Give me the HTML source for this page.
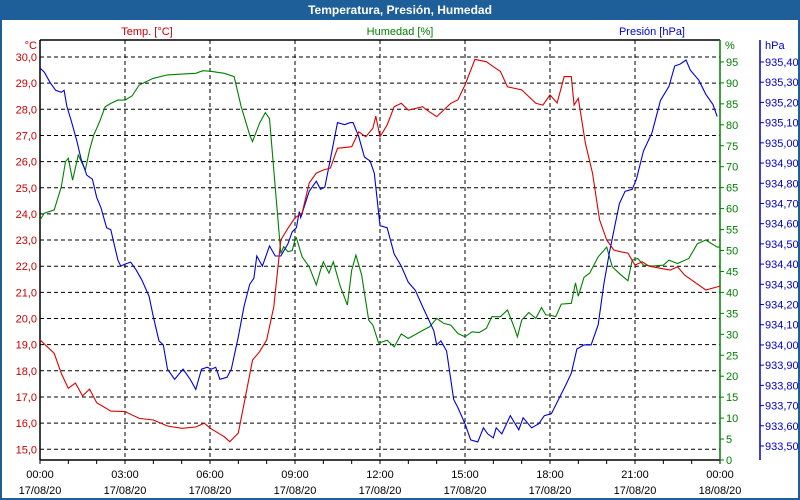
<!DOCTYPE html>
<html><head><meta charset="utf-8"><style>
html,body{margin:0;padding:0;background:#fff}
#wrap{position:relative;width:800px;height:500px;box-sizing:border-box;border:2px solid #1f5f99;border-top:none;overflow:hidden;font-family:"Liberation Sans","DejaVu Sans",sans-serif}
#title{position:absolute;left:-2px;top:0;width:800px;height:20px;background:#1f5f99;color:#fff;font-weight:bold;font-size:12px;text-align:center;line-height:20px}
svg{position:absolute;left:-2px;top:0}
</style></head><body>
<div id="wrap">
<div id="title">Temperatura, Presión, Humedad</div>
<svg id="chart" width="800" height="500"></svg>
</div>
<script>
const tempHours=[0,0.5,0.75,1,1.25,1.5,1.75,2,2.5,3,3.5,4,4.5,5,5.5,5.8,6,6.5,6.7,7,7.25,7.5,7.75,8,8.25,8.5,8.75,9,9.25,9.5,9.75,10,10.25,10.5,11,11.25,11.5,11.75,11.85,12,12.25,12.5,12.75,13,13.5,13.75,14,14.5,14.75,15,15.25,15.35,15.75,16,16.25,16.5,17,17.5,17.75,18,18.25,18.5,18.75,18.85,19,19.25,19.5,19.75,20,20.25,20.5,20.75,21,21.25,21.5,22,22.25,22.5,22.75,23,23.5,24];
const tempValues=[19.18,18.67,17.9,17.33,17.53,17.04,17.3,16.78,16.46,16.44,16.18,16.12,15.89,15.8,15.85,16.0,15.81,15.48,15.29,15.62,17.0,18.41,18.73,19.18,20.45,23.0,23.45,23.85,24.03,25.18,25.56,25.68,25.75,26.51,26.57,27.14,26.95,27.28,27.74,26.95,27.4,28.1,28.23,27.97,28.1,27.9,27.72,28.23,28.36,28.93,29.63,29.91,29.82,29.63,29.45,28.86,28.74,28.23,28.16,28.55,28.24,29.25,29.25,28.16,28.42,26.7,25.56,23.77,23.0,22.62,22.55,22.5,22.04,22.17,22.0,21.9,21.85,21.98,21.66,21.47,21.09,21.24];
const humHours=[0,0.15,0.5,0.75,0.9,1,1.15,1.35,1.6,1.75,1.9,2.1,2.3,2.5,2.75,3,3.25,3.5,4,4.5,5,5.5,5.75,6,6.5,6.85,7.1,7.4,7.5,7.75,7.95,8.1,8.3,8.5,8.6,8.75,8.9,9,9.05,9.25,9.5,9.75,9.9,10,10.2,10.35,10.6,10.85,11,11.15,11.35,11.6,11.75,11.95,12.25,12.5,12.75,13,13.5,13.75,14,14.25,14.5,14.75,15,15.25,15.5,15.75,15.95,16.25,16.5,16.75,16.85,17,17.25,17.5,17.7,17.85,18,18.2,18.4,18.75,18.9,19,19.2,19.4,19.7,20,20.2,20.5,20.75,20.9,21.1,21.3,21.6,22,22.2,22.5,22.9,23.2,23.5,23.9,24];
const humValues=[57.3,58.9,59.7,65.2,71.2,72,66.8,72.8,69.2,74,77.6,80.7,84.3,85.1,85.9,85.9,86.9,89.5,91.1,91.9,92.1,92.3,92.9,92.8,92.3,91.5,84.3,77.6,76,80.4,82.9,81.5,65.2,49.3,50.9,49.7,50,52.5,53,48.5,46.1,41.8,45.3,47.3,44.6,47.3,41.4,37,45.3,48.9,44.2,33.4,32.2,27.9,28.6,27,30.1,29,30.9,31.8,33.8,32.6,32.2,30.2,29.4,30.6,30.4,31.4,34.2,34.2,35.8,31.4,29.4,33.4,35.2,33.8,36.4,34.6,34.6,34.2,37.2,37.4,42.3,39.1,43.6,44.6,48.5,50.8,46.1,44.2,42.8,47.7,48.1,46.5,46.3,46.5,47.7,46.9,48.1,51.6,52.5,50.8,50.8];
const presHours=[0,0.15,0.35,0.55,0.75,0.85,0.95,1.1,1.3,1.45,1.65,1.85,2,2.15,2.35,2.5,2.75,2.85,3,3.2,3.4,3.6,3.85,4,4.2,4.35,4.5,4.75,5.05,5.3,5.5,5.7,5.9,6.05,6.2,6.35,6.6,6.75,7,7.2,7.4,7.55,7.65,7.85,8.1,8.3,8.5,8.75,8.9,9.05,9.15,9.2,9.5,9.75,9.9,10.05,10.25,10.5,10.75,10.95,11.05,11.25,11.45,11.65,11.8,12,12.25,12.5,12.75,13,13.25,13.5,13.7,13.9,14,14.15,14.35,14.6,14.75,15,15.2,15.45,15.65,15.8,16,16.1,16.3,16.6,16.9,17.05,17.35,17.6,17.8,18.05,18.3,18.55,18.75,18.95,19.2,19.45,19.7,19.9,20.1,20.45,20.65,20.9,21.05,21.3,21.6,21.9,22.2,22.4,22.6,22.8,22.95,23.25,23.5,23.75,23.9];
const presValues=[935.37,935.35,935.30,935.26,935.25,935.26,935.18,935.11,935.01,934.92,934.84,934.82,934.73,934.68,934.58,934.57,934.42,934.39,934.40,934.41,934.37,934.32,934.24,934.14,934.02,934.00,933.88,933.83,933.88,933.83,933.78,933.88,933.89,933.88,933.89,933.83,933.84,933.88,934.04,934.19,934.30,934.33,934.44,934.39,934.49,934.44,934.44,934.50,934.56,934.58,934.66,934.63,934.76,934.81,934.77,934.78,934.92,935.10,935.09,935.10,935.10,935.03,934.93,934.91,934.85,934.59,934.58,934.45,934.39,934.31,934.27,934.19,934.13,934.07,934.00,934.02,933.97,933.73,933.69,933.61,933.53,933.52,933.59,933.56,933.54,933.59,933.56,933.65,933.58,933.64,933.59,933.61,933.65,933.66,933.73,933.80,933.86,933.98,934.00,934.00,934.10,934.30,934.46,934.70,934.76,934.77,934.82,934.96,935.05,935.21,935.28,935.38,935.39,935.41,935.36,935.31,935.24,935.19,935.13];
const tempTicks=[15,16,17,18,19,20,21,22,23,24,25,26,27,28,29,30];
const humTicks=[0,5,10,15,20,25,30,35,40,45,50,55,60,65,70,75,80,85,90,95];
const presTicks=[933.5,933.6,933.7,933.8,933.9,934.0,934.1,934.2,934.3,934.4,934.5,934.6,934.7,934.8,934.9,935.0,935.1,935.2,935.3,935.4];
const timeTicks=[0,3,6,9,12,15,18,21,24];
const timeLabels=["00:00","03:00","06:00","09:00","12:00","15:00","18:00","21:00","00:00"];
const dateLabels=["17/08/20","17/08/20","17/08/20","17/08/20","17/08/20","17/08/20","17/08/20","17/08/20","18/08/20"];

const L=40,R=720,T=40,B=460;
const xS=h=>L+h*(R-L)/24;
const yT=v=>57+(30-v)*26.15;
const yH=v=>460-v*4.19;
const yP=v=>62+(935.4-v)*202.1;
const svg=document.getElementById('chart');
const NS='http://www.w3.org/2000/svg';
function mk(tag,attrs){const e=document.createElementNS(NS,tag);for(const k in attrs)e.setAttribute(k,attrs[k]);svg.appendChild(e);return e;}
function txt(x,y,s,fill,anchor){const e=mk('text',{x:x,y:y,fill:fill,'font-size':'11','text-anchor':anchor,'font-family':'Liberation Sans, DejaVu Sans, sans-serif'});e.textContent=s;return e;}

// grid
tempTicks.forEach(v=>{const g=mk('line',{x1:L,x2:R,y1:yT(v),y2:yT(v),stroke:'#000','stroke-dasharray':'4,3','stroke-width':1});


const t=txt(37,yT(v)+4,v.toFixed(1).replace('.',','),'#cc0000','end');

});
timeTicks.forEach((h,i)=>{if(h>0&&h<24){const g=mk('line',{x1:xS(h),x2:xS(h),y1:T,y2:B,stroke:'#000','stroke-dasharray':'4,3','stroke-width':1});

}
const a=txt(xS(h),478,timeLabels[i],'#000','middle');


const b=txt(xS(h),494,dateLabels[i],'#000','middle');

});
for(let h=0;h<=24;h++){const t=mk('line',{x1:xS(h),x2:xS(h),y1:B,y2:B+4,stroke:'#000'});

}
humTicks.forEach(v=>{const t=mk('line',{x1:R,x2:R+4,y1:yH(v),y2:yH(v),stroke:'#008000'});


const l=txt(726,yH(v)+4,String(v),'#008000','start');

});
presTicks.forEach(v=>{const t=mk('line',{x1:760,x2:764,y1:yP(v),y2:yP(v),stroke:'#0000cc'});


const l=txt(765,yP(v)+4,v.toFixed(2).replace('.',','),'#0000cc','start');

});

// axes
[[L,T,R,T,'#000'],[L,T,L,B,'#000'],[L,B,R,B,'#000'],[R,T,R,B,'#008000'],[760,T,760,B,'#0000cc']].forEach(a=>{const e=mk('line',{x1:a[0],y1:a[1],x2:a[2],y2:a[3],stroke:a[4],'stroke-width':1.5});

});

// titles
let e;
e=txt(147,35,'Temp. [°C]','#cc0000','middle');
e=txt(400,35,'Humedad [%]','#008000','middle');
e=txt(685,35,'Presión [hPa]','#0000cc','end');
e=txt(37,49,'°C','#cc0000','end');
e=txt(725,49,'%','#008000','start');
e=txt(765,49,'hPa','#0000cc','start');

function series(hs,vs,yf,color,name){const pts=hs.map((h,i)=>xS(h).toFixed(1)+','+yf(vs[i]).toFixed(1)).join(' ');
const p=mk('polyline',{points:pts,fill:'none',stroke:color,'stroke-width':1.1});

}
series(humHours,humValues,yH,'#008000','humidity-line');
series(presHours,presValues,yP,'#0000dd','pressure-line');
series(tempHours,tempValues,yT,'#dd0000','temperature-line');
</script>
</body></html>
